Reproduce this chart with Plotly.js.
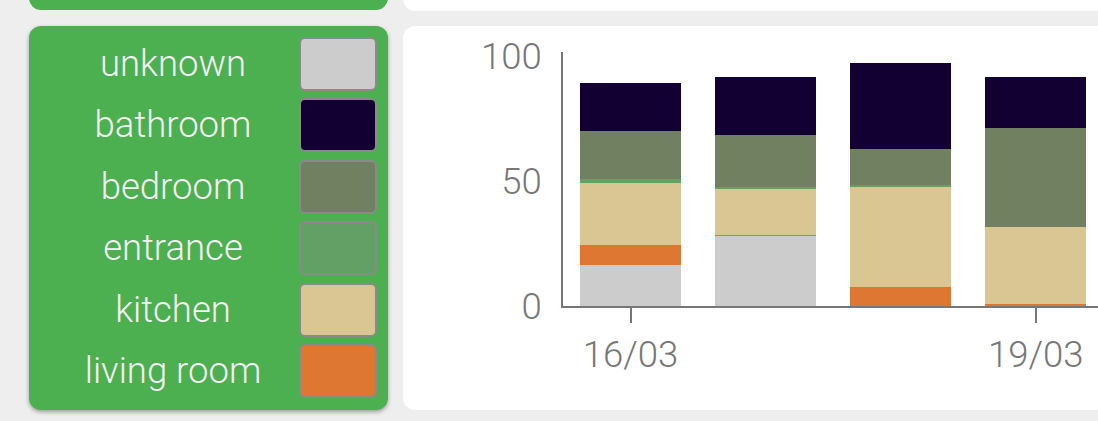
<!DOCTYPE html>
<html>
<head>
<meta charset="utf-8">
<script src="https://cdn.plot.ly/plotly-3.0.1.min.js"></script>
<style>
  html, body { margin:0; padding:0; width:1098px; height:421px; overflow:hidden; background:#eeeeee; font-family:Roboto, "Noto Sans", sans-serif; }
  .card { position:absolute; border-radius:12px; }
  #topGreen { left:29px; top:-40px; width:359px; height:50px; background:#4caf50; }
  #topWhite { left:403px; top:-40px; width:760px; height:51px; background:#ffffff; }
  #legendCard { left:29px; top:26px; width:359px; height:384px; background:#4caf50; box-shadow:0 2px 4px rgba(0,0,0,0.35); }
  #chartCard { left:403px; top:26px; width:760px; height:384px; background:#ffffff; overflow:hidden; }
  .row { position:absolute; left:0; width:359px; height:54px; }
  .lab { position:absolute; left:15px; width:258px; top:0; height:54px; line-height:54px; text-align:center; color:#f4f4f4; font-size:36.5px; font-weight:300; white-space:nowrap; }
  .sw { position:absolute; left:270px; top:0; width:74px; height:50px; border:2px solid #8a8a8a; border-radius:6px; }
  #plot { position:absolute; left:0; top:0; width:903px; height:384px; }
</style>
</head>
<body>
<div class="card" id="topGreen"></div>
<div class="card" id="topWhite"></div>
<div class="card" id="legendCard"></div>
<div class="card" id="chartCard"><div id="plot"></div></div>
<script>
// ---- data ----
const dates = ['2020-03-16', '2020-03-17', '2020-03-18', '2020-03-19'];
const legendNames = ['unknown', 'bathroom', 'bedroom', 'entrance', 'kitchen', 'living room'];
const legendColors = ['#cccccc', '#120033', '#718060', '#62a066', '#d9c693', '#de7732'];
const stackOrder = ['unknown', 'living room', 'kitchen', 'entrance', 'bedroom', 'bathroom'];
const unknownVals = [16.5, 28.2, 0, 0];
const livingRoomVals = [8.0, 0.3, 7.5, 0.7];
const kitchenVals = [24.6, 18.2, 40.2, 30.8];
const entranceVals = [1.6, 1.0, 0.7, 0];
const bedroomVals = [19.4, 20.6, 14.3, 39.6];
const bathroomVals = [19.2, 23.4, 34.6, 20.6];
const yTicks = [0, 50, 100];

const seriesValues = {
  'unknown': unknownVals,
  'living room': livingRoomVals,
  'kitchen': kitchenVals,
  'entrance': entranceVals,
  'bedroom': bedroomVals,
  'bathroom': bathroomVals
};

// ---- legend panel ----
const card = document.getElementById('legendCard');
legendNames.forEach((name, i) => {
  const row = document.createElement('div');
  row.className = 'row';
  row.style.top = (11 + i * 61.4) + 'px';
  const lab = document.createElement('div');
  lab.className = 'lab';
  lab.textContent = name;
  const sw = document.createElement('div');
  sw.className = 'sw';
  sw.style.background = legendColors[i];
  row.appendChild(lab);
  row.appendChild(sw);
  card.appendChild(row);
});

// ---- chart ----
const traces = stackOrder.map(name => ({
  type: 'bar',
  name: name,
  x: dates,
  y: seriesValues[name],
  marker: { color: legendColors[legendNames.indexOf(name)], line: { width: 0 } },
  hoverinfo: 'none'
}));

const layout = {
  barmode: 'stack',
  bargap: 0.25,
  showlegend: false,
  width: 903,
  height: 384,
  margin: { l: 160, r: 0, t: 26, b: 104 },
  paper_bgcolor: 'rgba(0,0,0,0)',
  plot_bgcolor: '#ffffff',
  font: { family: 'Roboto, "Noto Sans", sans-serif', size: 36.5, color: '#777777', weight: 300 },
  xaxis: {
    type: 'date',
    range: ['2020-03-15 12:00', '2020-03-21 00:00'],
    tickvals: ['2020-03-16', '2020-03-19'],
    tickformat: '%d/%m',
    ticks: 'outside',
    ticklen: 15,
    tickwidth: 2,
    tickcolor: '#777777',
    showline: true,
    linecolor: '#777777',
    linewidth: 2,
    showgrid: false,
    zeroline: false,
    fixedrange: true
  },
  yaxis: {
    range: [0, 101.6],
    tickvals: yTicks,
    ticks: '',
    ticklabelstandoff: 12,
    showline: true,
    linecolor: '#777777',
    linewidth: 2,
    showgrid: false,
    zeroline: false,
    fixedrange: true
  }
};

Plotly.newPlot('plot', traces, layout, { displayModeBar: false, staticPlot: true });
</script>
</body>
</html>
